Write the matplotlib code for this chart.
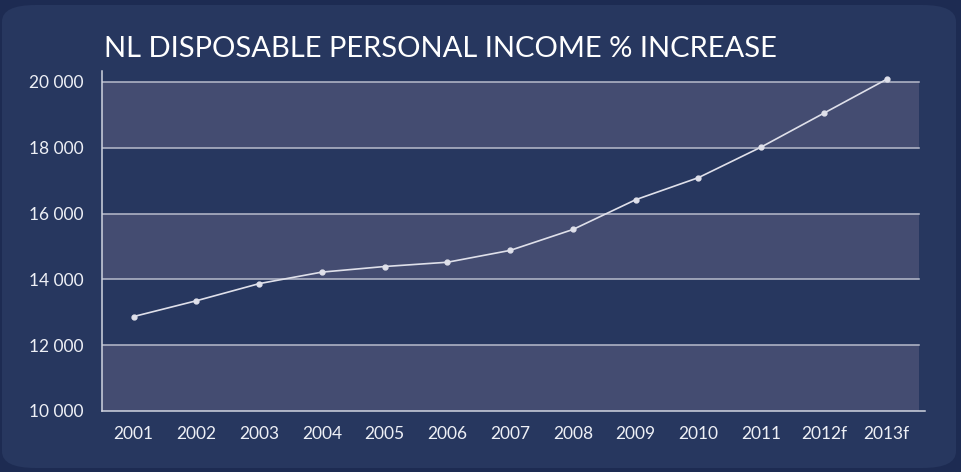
import matplotlib.pyplot as plt
from matplotlib.patches import FancyBboxPatch

# data
years = ["2001", "2002", "2003", "2004", "2005", "2006", "2007",
         "2008", "2009", "2010", "2011", "2012f", "2013f"]
income = [12870, 13350, 13870, 14220, 14390, 14520, 14880,
          15515, 16420, 17090, 18020, 19050, 20080]
y_ticks = [10000, 12000, 14000, 16000, 18000, 20000]
y_tick_labels = ["10 000", "12 000", "14 000", "16 000", "18 000", "20 000"]

outer_bg = "#1d2b52"
panel_bg = "#27375f"
band_col = "#444c71"
grid_col = "#b8bccc"
text_col = "#eef0f6"
font = "Lato"

fig = plt.figure(figsize=(9.61, 4.72), dpi=100)
fig.patch.set_facecolor(outer_bg)

# rounded panel behind everything
panel = FancyBboxPatch((2 / 961, 4 / 472), 954 / 961, 463 / 472,
                       boxstyle="round,pad=0,rounding_size=0.035",
                       transform=fig.transFigure, facecolor=panel_bg,
                       edgecolor="none", zorder=-10)
fig.patches.append(panel)

ax = fig.add_axes([102 / 961, (472 - 411) / 472, 823 / 961, 340 / 472])
ax.set_facecolor("none")

x = list(range(len(years)))
ax.set_xlim(-0.505, 12.61)
ax.set_ylim(10000, 20330)

# alternating bands
band_end = (919 - 102) / 823
for lo in (10000, 14000, 18000):
    ax.axhspan(lo, lo + 2000, xmin=0, xmax=band_end, color=band_col, lw=0, zorder=1)
for yv in y_ticks[1:]:
    ax.axhline(yv, xmin=0, xmax=band_end, color=grid_col, lw=1.1, zorder=2)

ax.plot(x, income, color="#dfe0ea", lw=1.2, marker="o", markersize=3.5, zorder=3)

ax.set_xticks(x)
ax.set_xticklabels(years)
ax.set_yticks(y_ticks)
ax.set_yticklabels(y_tick_labels)
ax.tick_params(axis="both", length=0, labelsize=12.5, labelcolor=text_col)
ax.tick_params(axis="y", pad=13)
ax.tick_params(axis="x", pad=11)
for lab in ax.get_xticklabels() + ax.get_yticklabels():
    lab.set_fontfamily(font)

for side in ("top", "right"):
    ax.spines[side].set_visible(False)
for side in ("left", "bottom"):
    ax.spines[side].set_color("#d0d4e0")
    ax.spines[side].set_linewidth(1.1)

fig.text(104 / 961, 1 - 49 / 472, "NL DISPOSABLE PERSONAL INCOME % INCREASE",
         color="white", fontsize=21, fontfamily=font, va="center", ha="left")

fig.savefig("out.png", dpi=100, facecolor=fig.get_facecolor())
